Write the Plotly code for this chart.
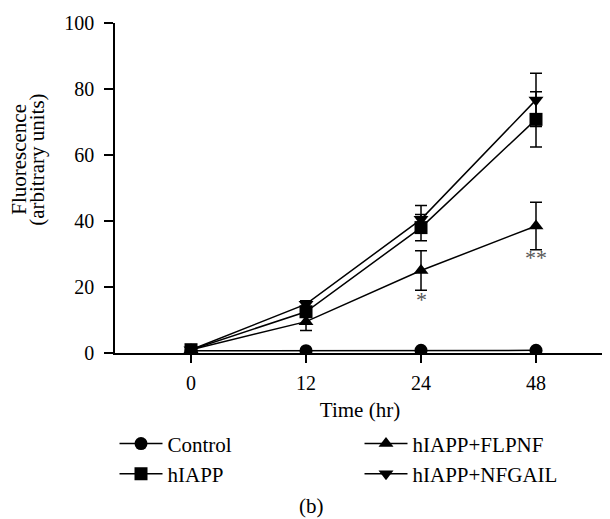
import plotly.graph_objects as go

time_labels = ["0", "12", "24", "48"]
x_pos = [0, 1, 2, 3]

control = [0.7, 0.7, 0.8, 0.8]
hiapp = [1.0, 12.5, 38.0, 70.8]
hiapp_err = [0.3, 1.5, 4.0, 8.4]
flpnf = [1.0, 9.5, 25.0, 38.5]
flpnf_err = [0.3, 2.7, 6.0, 7.2]
nfgail = [1.0, 14.8, 40.5, 76.7]
nfgail_err = [0.3, 1.0, 4.2, 8.1]

FONT = "Liberation Serif, Times New Roman, DejaVu Serif, serif"
TXT = 21
fig = go.Figure()

def add(name, y, err, symbol, rank):
    fig.add_trace(go.Scatter(
        x=x_pos, y=y, name=name, mode="lines+markers",
        line=dict(color="black", width=1.5),
        marker=dict(symbol=symbol, size=13, color="black"),
        error_y=dict(type="data", array=err if err is not None else [0]*len(y),
                     visible=err is not None,
                     color="black", thickness=1.5, width=6),
        legendrank=rank,
    ))

add("Control", control, None, "circle", 1)
add("hIAPP+FLPNF", flpnf, flpnf_err, "triangle-up", 2)
add("hIAPP+NFGAIL", nfgail, nfgail_err, "triangle-down", 4)
add("hIAPP", hiapp, hiapp_err, "square", 3)

fig.add_annotation(x=2, y=16.3, text="*", showarrow=False,
                   font=dict(family=FONT, size=22, color="#555"))
fig.add_annotation(x=3, y=29.0, text="**", showarrow=False,
                   font=dict(family=FONT, size=22, color="#555"))

fig.add_annotation(xref="paper", yref="paper", x=(19 - 115) / 490, y=(353.5 - 160) / 330.5,
                   text="Fluorescence", textangle=-90, showarrow=False,
                   xanchor="center", yanchor="middle",
                   font=dict(family=FONT, size=TXT, color="black"))
fig.add_annotation(xref="paper", yref="paper", x=(37 - 115) / 490, y=(353.5 - 160) / 330.5,
                   text="(arbitrary units)", textangle=-90, showarrow=False,
                   xanchor="center", yanchor="middle",
                   font=dict(family=FONT, size=TXT, color="black"))
fig.add_annotation(xref="paper", yref="paper", x=(311 - 115) / 490, y=(353.5 - 507) / 330.5,
                   text="(b)", showarrow=False, xanchor="center", yanchor="middle",
                   font=dict(family=FONT, size=TXT, color="black"))

fig.update_layout(
    width=602, height=511,
    margin=dict(l=107, r=5, t=15, b=165.5),
    paper_bgcolor="white", plot_bgcolor="white",
    font=dict(family=FONT, size=20, color="black"),
    showlegend=True,
    legend=dict(orientation="h", x=-0.001, y=(353.5 - 424) / 330.5, xanchor="left", yanchor="top",
                entrywidth=187, itemwidth=43, traceorder="normal",
                font=dict(family=FONT, size=TXT, color="black"), tracegroupgap=0),
    xaxis=dict(range=[-0.661, 3.6], tickvals=x_pos, ticktext=time_labels,
               showline=True, linecolor="black", linewidth=1.5,
               ticks="outside", ticklen=8, tickwidth=1.5, tickcolor="black",
               ticklabelstandoff=3,
               showgrid=False, zeroline=False,
               title=dict(text="Time (hr)", standoff=10, font=dict(family=FONT, size=TXT))),
    yaxis=dict(range=[0, 100], tickvals=[0, 20, 40, 60, 80, 100],
               showline=True, linecolor="black", linewidth=1.5,
               ticks="outside", ticklen=9, tickwidth=1.5, tickcolor="black",
               ticklabelstandoff=6,
               showgrid=False, zeroline=False),
)

fig.write_html("out.html")
